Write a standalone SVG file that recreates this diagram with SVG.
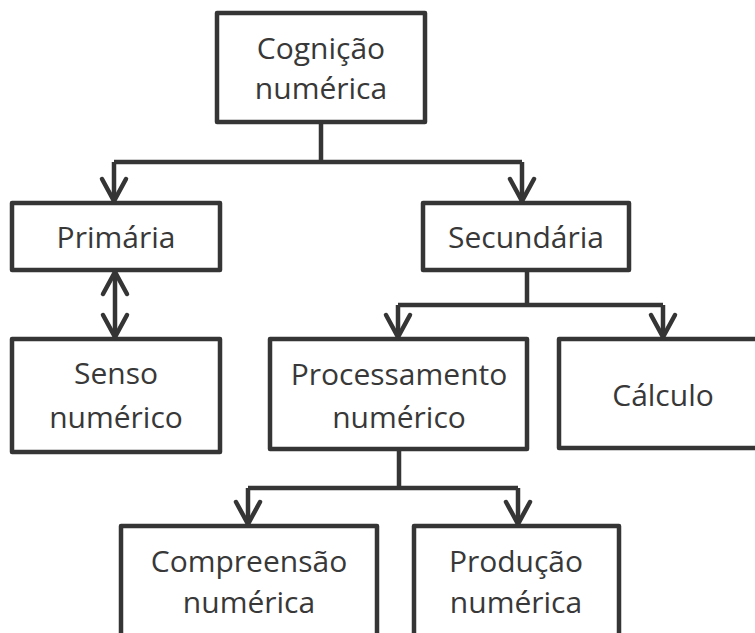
<svg xmlns="http://www.w3.org/2000/svg" width="755" height="633" viewBox="0 0 755 633">
<defs>
<style>
.box{fill:#fff;stroke:#353535;stroke-width:4.5;stroke-linejoin:round}
.t{font-family:"Open Sans","Noto Sans",sans-serif;font-size:30px;fill:#383838;text-anchor:middle}
.c{fill:none;stroke:#353535;stroke-width:4.5;stroke-linejoin:round}
</style>
<marker id="ah" markerUnits="userSpaceOnUse" markerWidth="30" markerHeight="30" refX="0" refY="0" orient="auto-start-reverse" overflow="visible">
<path d="M-22,-12 L0,0 L-22,12" fill="none" stroke="#353535" stroke-width="4.5" stroke-linecap="round" stroke-linejoin="miter"/>
</marker>
</defs>
<rect width="755" height="633" fill="#fff"/>
<g id="connectors">
<path class="c" d="M321,122 V162 M114,162 H522" />
<path class="c" d="M114,162 V201" marker-end="url(#ah)"/>
<path class="c" d="M522,162 V201" marker-end="url(#ah)"/>
<path class="c" d="M115,272 V337" marker-start="url(#ah)" marker-end="url(#ah)"/>
<path class="c" d="M527,270 V305 M398,305 H663"/>
<path class="c" d="M398,305 V337" marker-end="url(#ah)"/>
<path class="c" d="M663,305 V337" marker-end="url(#ah)"/>
<path class="c" d="M399,449 V488 M248,488 H518"/>
<path class="c" d="M248,488 V524" marker-end="url(#ah)"/>
<path class="c" d="M518,488 V524" marker-end="url(#ah)"/>
</g>
<g id="cognicao">
<rect class="box" x="217" y="13" width="208" height="109"/>
<text class="t" x="321" y="59">Cognição</text>
<text class="t" x="321" y="99">numérica</text>
</g>
<g id="primaria">
<rect class="box" x="12" y="203" width="208" height="67"/>
<text class="t" x="116" y="248">Primária</text>
</g>
<g id="secundaria">
<rect class="box" x="423" y="203" width="206" height="67"/>
<text class="t" x="526" y="248">Secundária</text>
</g>
<g id="senso">
<rect class="box" x="12" y="339" width="208" height="113"/>
<text class="t" x="116" y="384">Senso</text>
<text class="t" x="116" y="428">numérico</text>
</g>
<g id="processamento">
<rect class="box" x="270" y="339" width="257" height="110"/>
<text class="t" x="399" y="385">Processamento</text>
<text class="t" x="399" y="428">numérico</text>
</g>
<g id="calculo">
<rect class="box" x="559" y="339" width="210" height="109"/>
<text class="t" x="663" y="406">Cálculo</text>
</g>
<g id="compreensao">
<rect class="box" x="121" y="526" width="256" height="130"/>
<text class="t" x="249" y="572">Compreensão</text>
<text class="t" x="249" y="613">numérica</text>
</g>
<g id="producao">
<rect class="box" x="414" y="526" width="205" height="130"/>
<text class="t" x="516" y="572">Produção</text>
<text class="t" x="516" y="613">numérica</text>
</g>
</svg>
